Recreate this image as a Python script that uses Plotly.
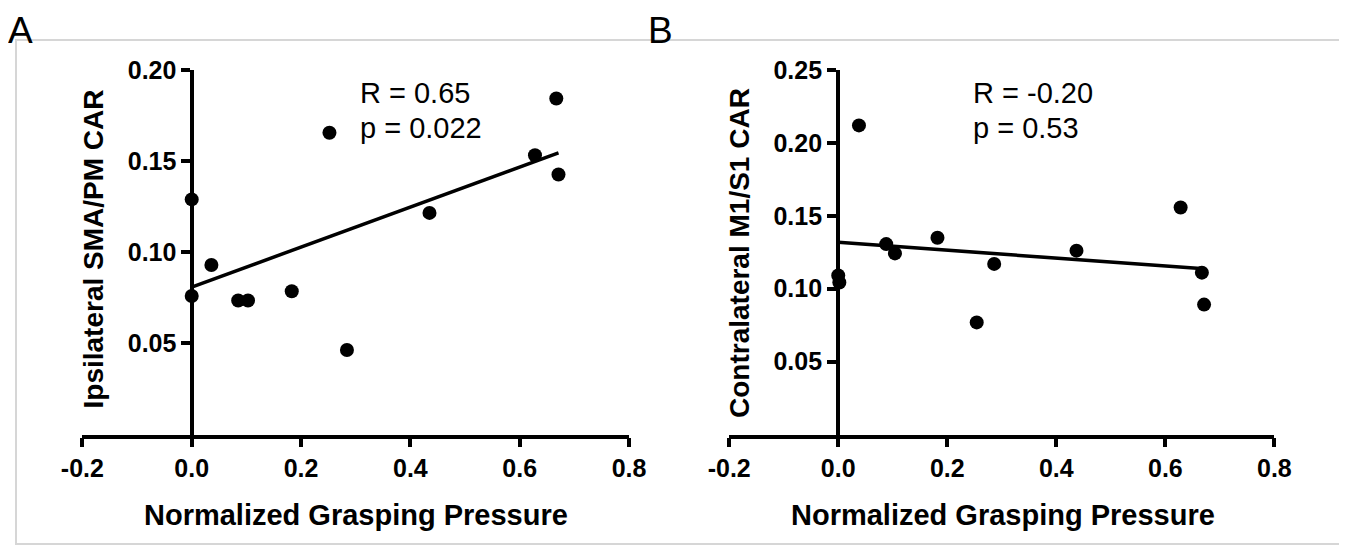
import numpy as np
import plotly.graph_objects as go

# ---- data ----
x_a = [0.0, 0.0, 0.036, 0.085, 0.103, 0.183, 0.252, 0.284, 0.435, 0.628, 0.667, 0.671]
y_a = [0.129, 0.076, 0.093, 0.0735, 0.0735, 0.0786, 0.1656, 0.0464, 0.1216, 0.1532, 0.1844, 0.1427]
x_b = [0.0, 0.002, 0.038, 0.088, 0.104, 0.182, 0.254, 0.286, 0.437, 0.628, 0.667, 0.671]
y_b = [0.1091, 0.1043, 0.212, 0.1306, 0.1242, 0.1349, 0.0769, 0.117, 0.1261, 0.1557, 0.111, 0.0891]

x_ticks = [-0.2, 0.0, 0.2, 0.4, 0.6, 0.8]
x_tick_labels = ["-0.2", "0.0", "0.2", "0.4", "0.6", "0.8"]
y_ticks_a = [0.05, 0.10, 0.15, 0.20]
y_ticks_b = [0.05, 0.10, 0.15, 0.20, 0.25]
stats_a = ["R = 0.65", "p = 0.022"]
stats_b = ["R = -0.20", "p = 0.53"]
x_title = "Normalized Grasping Pressure"
y_title_a = "Ipsilateral SMA/PM CAR"
y_title_b = "Contralateral M1/S1 CAR"

# the page body adds an 8px margin; positions below are page pixels
OFF = 8
W, H = 1347 - OFF, 545 - OFF
FONT = "Liberation Sans, Arial, Helvetica, sans-serif"


def px(v):
    return (v - OFF) / W


def py(v):
    return 1 - (v - OFF) / H


fig = go.Figure()


def add_panel(xs, ys, suffix):
    fig.add_trace(go.Scatter(x=xs, y=ys, mode="markers",
                             marker=dict(color="black", size=14),
                             xaxis="x" + suffix, yaxis="y" + suffix,
                             showlegend=False, cliponaxis=False))
    k, b = np.polyfit(xs, ys, 1)
    lx = [min(xs), max(xs)]
    fig.add_trace(go.Scatter(x=lx, y=[k * v + b for v in lx], mode="lines",
                             line=dict(color="black", width=3.5),
                             xaxis="x" + suffix, yaxis="y" + suffix,
                             showlegend=False))


add_panel(x_a, y_a, "")
add_panel(x_b, y_b, "2")

tickfont = dict(family=FONT, size=25, color="black", weight="bold")
common_x = dict(range=[-0.2, 0.8], tickvals=x_ticks, ticktext=x_tick_labels,
                showline=True, linecolor="black", linewidth=3.5,
                ticks="outside", ticklen=9, tickwidth=3.5, tickcolor="black",
                showgrid=False, zeroline=False, tickfont=tickfont,
                automargin=False)
common_y = dict(showline=True, linecolor="black", linewidth=3.5,
                ticks="outside", ticklen=9, tickwidth=3.5, tickcolor="black",
                showgrid=False, zeroline=False, tickfont=tickfont,
                tickformat=".2f", anchor="free", automargin=False)

ydom = [py(434.5), py(70)]
fig.update_layout(
    template="none",
    width=W, height=H,
    margin=dict(l=0, r=0, t=0, b=0, pad=0, autoexpand=False),
    paper_bgcolor="white", plot_bgcolor="rgba(0,0,0,0)",
    xaxis=dict(domain=[px(82.4), px(629)], anchor="y", **common_x),
    yaxis=dict(domain=ydom, range=[0, 0.2], tickvals=y_ticks_a,
               position=px(192.2), **common_y),
    xaxis2=dict(domain=[px(729.2), px(1274.4)], anchor="y2", **common_x),
    yaxis2=dict(domain=ydom, range=[0, 0.25], tickvals=y_ticks_b,
                position=px(837.9), **common_y),
)

ann = []
titlefont = dict(family=FONT, size=29, color="black", weight="bold")
for cx, text in [(355.5, x_title), (1002.6, x_title)]:
    ann.append(dict(x=px(cx), y=py(515), xref="paper", yref="paper",
                    text=text, showarrow=False, font=titlefont,
                    xanchor="center", yanchor="middle"))
for cx, cy, text in [(93, 248.5, y_title_a), (739, 253, y_title_b)]:
    ann.append(dict(x=px(cx), y=py(cy), xref="paper", yref="paper",
                    text=text, showarrow=False,
                    font=dict(family=FONT, size=28, color="black", weight="bold"),
                    textangle=-90, xanchor="center", yanchor="middle"))
statfont = dict(family=FONT, size=29, color="black")
for lx, lines in [(358, stats_a), (971, stats_b)]:
    for i, t in enumerate(lines):
        ann.append(dict(x=px(lx), y=py(93 + 35 * i), xref="paper", yref="paper",
                        text=t, showarrow=False, font=statfont,
                        xanchor="left", yanchor="middle"))
for cx, t in [(21, "A"), (660, "B")]:
    ann.append(dict(x=px(cx), y=py(8), xref="paper", yref="paper", text=t,
                    showarrow=False, font=dict(family=FONT, size=37, color="black"),
                    xanchor="center", yanchor="top"))
fig.update_layout(annotations=ann)

fig.add_shape(type="rect", xref="paper", yref="paper",
              x0=px(16), x1=px(1340), y0=py(544), y1=py(40),
              line=dict(color="#d6d6d6", width=2), layer="below")

fig.write_html("out.html")
